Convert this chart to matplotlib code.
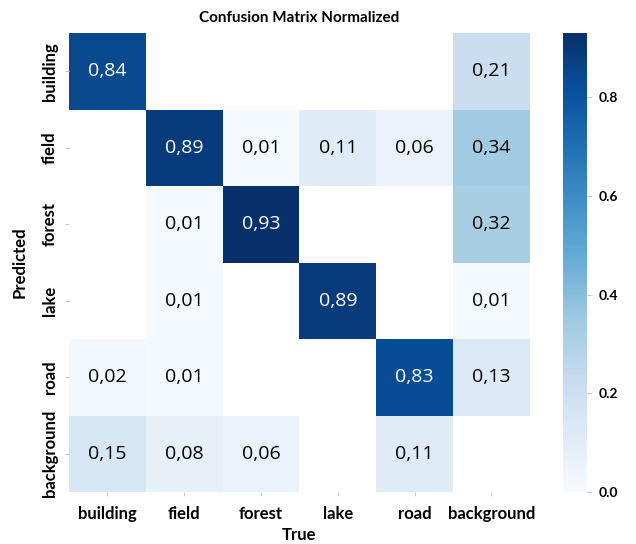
import numpy as np
import matplotlib
matplotlib.use("Agg")
import matplotlib.pyplot as plt

labels = ["building", "field", "forest", "lake", "road", "background"]
# rows = predicted, cols = true
cm = np.array([
    [0.84, 0.00, 0.00, 0.00, 0.00, 0.21],
    [0.00, 0.89, 0.01, 0.11, 0.06, 0.34],
    [0.00, 0.01, 0.93, 0.00, 0.00, 0.32],
    [0.00, 0.01, 0.00, 0.89, 0.00, 0.01],
    [0.02, 0.01, 0.00, 0.00, 0.83, 0.13],
    [0.15, 0.08, 0.06, 0.00, 0.11, 0.00],
])

plt.rcParams["font.family"] = ["Lato", "DejaVu Sans"]

fig = plt.figure(figsize=(6.36, 5.44), dpi=100)
ax = fig.add_axes([0.1085, 0.0956, 0.7245, 0.8434])
cax = fig.add_axes([0.885, 0.0956, 0.038, 0.8434])

masked = np.ma.masked_where(cm == 0, cm)
mesh = ax.pcolormesh(masked, cmap="Blues", vmin=0, vmax=cm.max())
ax.set_xlim(0, 6); ax.set_ylim(6, 0)
for s in ax.spines.values():
    s.set_visible(False)

for i in range(6):
    for j in range(6):
        v = cm[i, j]
        if v == 0:
            continue
        col = "white" if v > 0.5 else "black"
        ax.text(j + 0.5, i + 0.5, f"{v:.2f}".replace(".", ","), ha="center", va="center",
                fontsize=14, color=col, family=["Open Sans", "DejaVu Sans"])

ax.set_xticks(np.arange(6) + 0.5)
ax.set_yticks(np.arange(6) + 0.5)
ax.set_xticklabels(labels, fontsize=12, fontweight="bold")
ax.set_yticklabels(labels, fontsize=12, fontweight="bold", rotation=90, va="center")
ax.tick_params(length=3, color="#cccccc")
ax.tick_params(axis="x", pad=7)
ax.tick_params(axis="y", pad=5)
ax.set_xlabel("True", fontsize=12, fontweight="bold", labelpad=4)
ax.set_ylabel("Predicted", fontsize=12, fontweight="bold", labelpad=10)
ax.set_title("Confusion Matrix Normalized", fontsize=11, fontweight="bold", pad=8)

cb = fig.colorbar(mesh, cax=cax)
cb.outline.set_visible(False)
cb.set_ticks([0.0, 0.2, 0.4, 0.6, 0.8])
cb.ax.tick_params(labelsize=10, length=3, color="#cccccc", pad=5)
for t in cb.ax.get_yticklabels():
    t.set_fontweight("bold")

fig.savefig("out.png", dpi=100)
